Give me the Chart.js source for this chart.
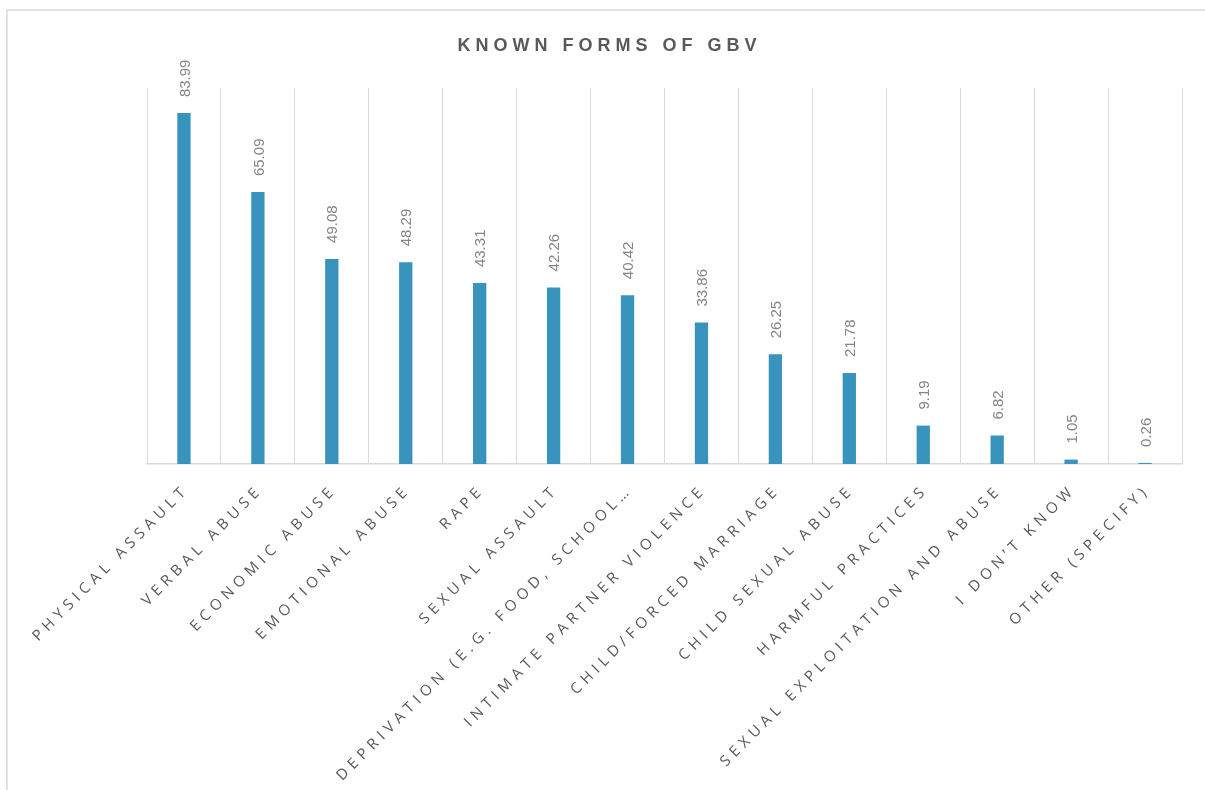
<!DOCTYPE html>
<html>
<head>
<meta charset="utf-8">
<script src="https://cdn.jsdelivr.net/npm/chart.js@4.4.1/dist/chart.umd.min.js"></script>
<style>
  html, body { margin: 0; padding: 0; background: #fff; }
  #wrap { position: relative; width: 1205px; height: 790px; }
</style>
</head>
<body>
<div id="wrap"><canvas id="chart"></canvas></div>
<script>
const title = 'KNOWN FORMS OF GBV';
const categories = [
  'PHYSICAL ASSAULT', 'VERBAL ABUSE', 'ECONOMIC ABUSE', 'EMOTIONAL ABUSE', 'RAPE',
  'SEXUAL ASSAULT', 'DEPRIVATION (E.G. FOOD, SCHOOL\u2026', 'INTIMATE PARTNER VIOLENCE',
  'CHILD/FORCED MARRIAGE', 'CHILD SEXUAL ABUSE', 'HARMFUL PRACTICES',
  'SEXUAL EXPLOITATION AND ABUSE', 'I DON\u2019T KNOW', 'OTHER (SPECIFY)'
];
const values = [83.99, 65.09, 49.08, 48.29, 43.31, 42.26, 40.42, 33.86, 26.25, 21.78, 9.19, 6.82, 1.05, 0.26];

const barColor = '#3894bc';
const gridColor = '#d9d9d9';

// draw text with letter spacing, falls back to char by char
function spacedText(ctx, text, x, y, spacing, align) {
  if ('letterSpacing' in ctx) {
    ctx.letterSpacing = spacing + 'px';
    let w = ctx.measureText(text).width;
    let sx = x;
    if (align === 'right') sx = x - w + spacing;
    else if (align === 'center') sx = x - (w - spacing) / 2;
    ctx.textAlign = 'left';
    ctx.fillText(text, sx, y);
    ctx.letterSpacing = '0px';
    return;
  }
  let total = 0;
  for (const ch of text) total += ctx.measureText(ch).width + spacing;
  total -= spacing;
  let cx = x;
  if (align === 'right') cx = x - total;
  else if (align === 'center') cx = x - total / 2;
  ctx.textAlign = 'left';
  for (const ch of text) {
    ctx.fillText(ch, cx, y);
    cx += ctx.measureText(ch).width + spacing;
  }
}

const decorations = {
  id: 'decorations',
  beforeDraw(chart) {
    const ctx = chart.ctx;
    ctx.save();
    ctx.fillStyle = '#fff';
    ctx.fillRect(0, 0, chart.width, chart.height);
    // outer frame (top + left)
    ctx.strokeStyle = gridColor;
    ctx.lineWidth = 1.5;
    ctx.beginPath();
    ctx.moveTo(7, chart.height);
    ctx.lineTo(7, 10);
    ctx.lineTo(chart.width, 10);
    ctx.stroke();
    // title
    ctx.fillStyle = '#595959';
    ctx.font = 'bold 18px "Liberation Sans", Arial, sans-serif';
    ctx.textBaseline = 'alphabetic';
    spacedText(ctx, title, 607, 51, 5, 'center');
    ctx.restore();
  },
  afterDatasetsDraw(chart) {
    const ctx = chart.ctx;
    const meta = chart.getDatasetMeta(0);
    const xScale = chart.scales.x;
    ctx.save();
    // value labels
    ctx.fillStyle = '#858585';
    ctx.font = '15px "Liberation Sans", Arial, sans-serif';
    ctx.textBaseline = 'middle';
    meta.data.forEach((bar, i) => {
      ctx.save();
      ctx.translate(bar.x + 1.5, bar.y - 16);
      ctx.rotate(-Math.PI / 2);
      ctx.textAlign = 'left';
      ctx.fillText(values[i].toFixed(2), 0, 0);
      ctx.restore();
    });
    // category labels
    ctx.fillStyle = '#595959';
    ctx.font = '15px "Open Sans", sans-serif';
    ctx.textBaseline = 'middle';
    categories.forEach((c, i) => {
      const x = xScale.getPixelForValue(i);
      ctx.save();
      ctx.translate(x - 1, chart.chartArea.bottom + 27);
      ctx.rotate(-Math.PI / 4);
      spacedText(ctx, c, 0, 0, 5, 'right');
      ctx.restore();
    });
    ctx.restore();
  }
};

function drawChart() {
  new Chart(document.getElementById('chart'), {
    type: 'bar',
    data: {
      labels: categories,
      datasets: [{
        label: title,
        data: values,
        backgroundColor: barColor,
        borderWidth: 0,
        barPercentage: 0.18,
        categoryPercentage: 1
      }]
    },
    options: {
      responsive: true,
      maintainAspectRatio: false,
      animation: false,
      layout: { padding: { left: 147, right: 23, top: 88, bottom: 326 } },
      plugins: {
        legend: { display: false },
        title: { display: false },
        tooltip: { enabled: false }
      },
      scales: {
        x: {
          grid: { color: gridColor, lineWidth: 1, drawTicks: false, offset: true },
          border: { color: gridColor, width: 1.5 },
          ticks: { display: false }
        },
        y: {
          display: false,
          min: 0,
          max: 90
        }
      }
    },
    plugins: [decorations]
  });
}

Promise.all([
  document.fonts.load('15px "Open Sans"'),
  document.fonts.load('15px "Liberation Sans"'),
  document.fonts.load('bold 18px "Liberation Sans"')
]).then(drawChart, drawChart);
</script>
</body>
</html>
